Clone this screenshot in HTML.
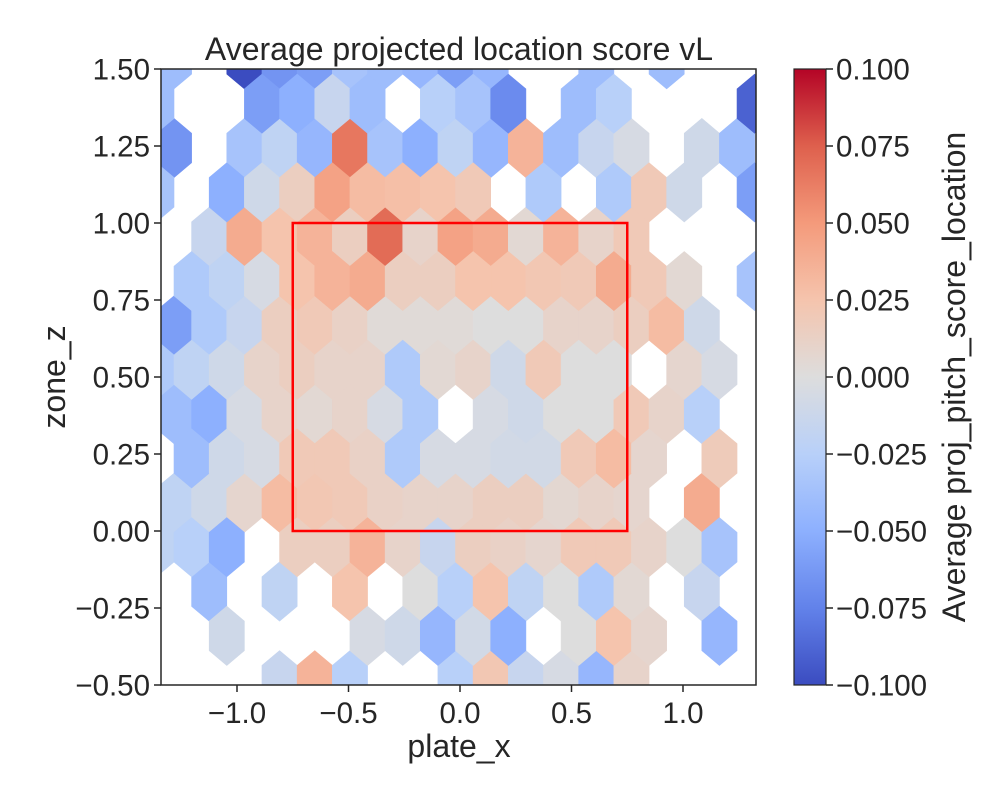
<!DOCTYPE html>
<html><head><meta charset="utf-8">
<style>
html,body{margin:0;padding:0;background:#fff;}
svg{display:block;font-family:"Liberation Sans","DejaVu Sans",sans-serif;fill:#262626;}
</style></head>
<body>
<svg id="chart" width="1000" height="800" viewBox="0 0 1000 800" xmlns="http://www.w3.org/2000/svg">
<defs>
<clipPath id="plotclip"><rect x="161" y="69" width="595" height="616"/></clipPath>
<linearGradient id="cmap" x1="0" y1="1" x2="0" y2="0">
<stop offset="0" stop-color="#3b4cc0"/><stop offset="0.125" stop-color="#6282ea"/>
<stop offset="0.25" stop-color="#8db0fe"/><stop offset="0.375" stop-color="#b8d0f9"/>
<stop offset="0.5" stop-color="#dddddd"/><stop offset="0.625" stop-color="#f5c4ad"/>
<stop offset="0.75" stop-color="#f49a7b"/><stop offset="0.875" stop-color="#de604d"/>
<stop offset="1" stop-color="#b40426"/>
</linearGradient>
</defs>
<rect width="1000" height="800" fill="#fff"/>
<text x="459" y="60" font-size="32" text-anchor="middle">Average projected location score vL</text>
<g id="hexes" clip-path="url(#plotclip)"></g>
<rect x="292.75" y="223" width="334.5" height="308" fill="none" stroke="#ff0000" stroke-width="2.5"/>
<rect x="161" y="69" width="595" height="616" fill="none" stroke="#262626" stroke-width="1.5"/>
<g id="xticks"></g>
<g id="yticks"></g>
<text x="459" y="757" font-size="32" text-anchor="middle">plate_x</text>
<text transform="translate(65,377) rotate(-90)" font-size="32" text-anchor="middle">zone_z</text>
<rect x="794" y="69" width="32" height="616" fill="url(#cmap)" stroke="#262626" stroke-width="1.2"/>
<g id="cticks"></g>
<text transform="translate(965,377) rotate(-90)" font-size="32" text-anchor="middle">Average proj_pitch_score_location</text>
</svg>
<script>
const xTicks = [-1.0, -0.5, 0.0, 0.5, 1.0];
const xTickLabels = ["\u22121.0", "\u22120.5", "0.0", "0.5", "1.0"];
const yTicks = [-0.5, -0.25, 0, 0.25, 0.5, 0.75, 1.0, 1.25, 1.5];
const yTickLabels = ["\u22120.50", "\u22120.25", "0.00", "0.25", "0.50", "0.75", "1.00", "1.25", "1.50"];
const cTicks = [-0.1, -0.075, -0.05, -0.025, 0, 0.025, 0.05, 0.075, 0.1];
const cTickLabels = ["\u22120.100", "\u22120.075", "\u22120.050", "\u22120.025", "0.000", "0.025", "0.050", "0.075", "0.100"];
// hex grid (data coordinates)
const gridA_x0 = -1.2825, gridA_y0 = 1.5315, gridSx = 0.1578, gridSy = 0.288;
// lattice A rows (17 cells each), top to bottom
const rowsA = [
[-0.04,null,-0.1,-0.065,-0.06,-0.035,-0.04,-0.045,-0.06,-0.045,null,null,-0.04,null,-0.04,null,null],
[-0.065,null,-0.035,-0.02,-0.045,0.065,-0.035,-0.05,-0.02,-0.045,0.035,-0.04,-0.015,-0.005,null,-0.01,-0.04],
[null,-0.015,0.04,0.025,0.035,0.015,0.07,0.01,0.045,0.04,0.005,0.035,0.01,0.02,null,null,null],
[-0.06,-0.03,-0.015,0.015,0.02,0.012,0.003,0.003,0.003,0.0,0.0,0.01,0.01,0.015,0.03,-0.01,null],
[-0.04,-0.05,-0.005,0.01,0.005,0.01,-0.005,-0.03,null,-0.005,-0.01,0.0,0.0,0.02,0.01,-0.025,null],
[-0.02,-0.01,0.008,0.03,0.022,0.02,0.012,0.01,0.01,0.015,0.015,0.006,0.01,0.008,null,0.04,null],
[null,-0.04,null,-0.02,null,0.025,null,0.0,-0.025,0.025,-0.02,0.0,-0.03,0.005,null,-0.015,null],
[null,null,null,-0.015,0.035,-0.025,null,null,-0.025,0.022,-0.015,-0.005,-0.045,0.01,null,null,null]
];
// lattice B rows (18 cells each), offset half a cell
const rowsB = [
[-0.04,null,null,-0.06,-0.05,-0.015,-0.04,null,-0.025,-0.035,-0.07,null,-0.04,-0.025,null,null,null,-0.09],
[-0.035,null,-0.05,-0.01,0.015,0.045,0.03,0.028,0.025,0.02,null,-0.03,null,-0.03,0.02,-0.01,null,-0.06],
[null,-0.03,-0.02,-0.005,0.025,0.035,0.04,0.015,0.015,0.025,0.025,0.022,0.02,0.04,0.02,0.005,null,-0.035],
[-0.03,-0.02,-0.01,0.01,0.015,0.01,0.01,-0.03,0.005,0.01,-0.01,0.02,0.0,0.0,null,0.008,-0.005,null],
[null,-0.04,-0.01,-0.005,0.02,0.02,0.012,-0.03,-0.005,-0.005,-0.008,-0.008,0.02,0.03,0.008,null,0.018,null],
[-0.02,-0.025,-0.05,null,0.015,0.015,0.035,0.01,-0.015,0.015,0.012,0.008,0.02,0.02,0.01,0.0,-0.035,null],
[null,null,-0.01,null,null,null,-0.005,-0.01,-0.045,-0.008,-0.05,null,0.0,0.025,0.008,null,-0.045,null]
];
const NS = "http://www.w3.org/2000/svg";
const xS = v => 460 + 223 * v;
const yS = v => 531 - 308 * v;
const cS = v => 377 - 3080 * v;
const stops = [[59,76,192],[98,130,234],[141,176,254],[184,208,249],[221,221,221],[245,196,173],[244,154,123],[222,96,77],[180,4,38]];
function cmap(v){
  let t = Math.max(0, Math.min(1, (v + 0.1) / 0.2)) * 8;
  let i = Math.min(7, Math.floor(t)), f = t - i;
  const a = stops[i], b = stops[i+1];
  return "rgb(" + a.map((c,k)=>Math.round(c + (b[k]-c)*f)).join(",") + ")";
}
const g = document.getElementById("hexes");
const hw = xS(gridSx) - xS(0), hh = yS(0) - yS(gridSy);
function hex(cx, cy, v, name){
  const w = hw/2, s = hh/6, t = hh/3;
  const p = document.createElementNS(NS, "polygon");
  p.setAttribute("points", [[cx+w,cy-s],[cx+w,cy+s],[cx,cy+t],[cx-w,cy+s],[cx-w,cy-s],[cx,cy-t]].map(q=>q.join(",")).join(" "));
  p.setAttribute("fill", cmap(v));
  p.setAttribute("stroke", cmap(v));
  p.setAttribute("stroke-width", "0.6");
  
  
  g.appendChild(p);
}
rowsA.forEach((row, r) => row.forEach((v, k) => {
  if (v === null) return;
  hex(xS(gridA_x0 + k*gridSx), yS(gridA_y0 - r*gridSy), v, "hex-cell-a-" + r + "-" + k);
}));
rowsB.forEach((row, r) => row.forEach((v, k) => {
  if (v === null) return;
  hex(xS(gridA_x0 - gridSx/2 + k*gridSx), yS(gridA_y0 - gridSy/2 - r*gridSy), v, "hex-cell-b-" + r + "-" + k);
}));
function line(parent, x1,y1,x2,y2){
  const l = document.createElementNS(NS, "line");
  l.setAttribute("x1",x1);l.setAttribute("y1",y1);l.setAttribute("x2",x2);l.setAttribute("y2",y2);
  l.setAttribute("stroke","#262626");l.setAttribute("stroke-width","1.5");
  
  
  parent.appendChild(l);
}
function label(parent, x, y, txt, anchor, name){
  const t = document.createElementNS(NS, "text");
  t.setAttribute("x", x); t.setAttribute("y", y);
  t.setAttribute("font-size", "29.5"); t.setAttribute("text-anchor", anchor);
  t.textContent = txt;
  
  
  parent.appendChild(t);
}
const gx = document.getElementById("xticks");
xTicks.forEach((v,i)=>{ line(gx, xS(v),685,xS(v),692); label(gx, xS(v), 723, xTickLabels[i], "middle", "x-tick-label"); });
const gy = document.getElementById("yticks");
yTicks.forEach((v,i)=>{ line(gy, 154,yS(v),161,yS(v)); label(gy, 150, yS(v)+10.5, yTickLabels[i], "end", "y-tick-label"); });
const gc = document.getElementById("cticks");
cTicks.forEach((v,i)=>{ line(gc, 826,cS(v),833,cS(v)); label(gc, 836, cS(v)+10.5, cTickLabels[i], "start", "colorbar-tick-label"); });
</script>
</body></html>
